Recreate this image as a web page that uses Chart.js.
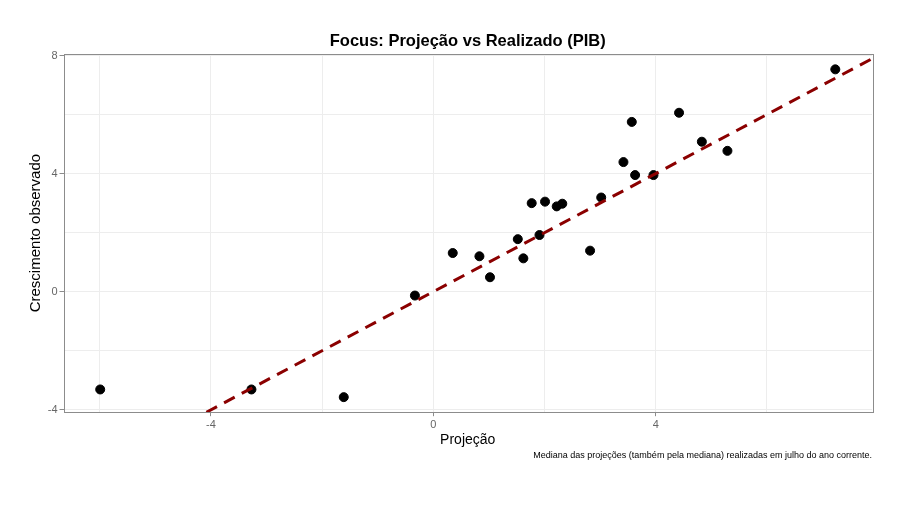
<!DOCTYPE html>
<html><head><meta charset="utf-8">
<script src="https://cdn.jsdelivr.net/npm/chart.js@4"></script>
<style>html,body{margin:0;padding:0;background:#fff}#wrap{width:906px;height:509px}</style>
</head><body><div id="wrap"><canvas id="c" width="906" height="509"></canvas></div>
<script>
const projecao = [-5.99, -3.27, -1.61, -0.33, 0.35, 0.83, 1.02, 1.52, 1.62, 1.77, 1.91, 2.01, 2.22, 2.32, 2.82, 3.02, 3.42, 3.57, 3.63, 3.96, 4.42, 4.83, 5.29, 7.23];
const realizado = [-3.31, -3.31, -3.57, -0.13, 1.31, 1.20, 0.49, 1.78, 1.13, 3.00, 1.92, 3.05, 2.89, 2.98, 1.39, 3.19, 4.39, 5.75, 3.95, 3.95, 6.06, 5.08, 4.77, 7.53];
const refLineX = [-4.08, 7.9];
const refLineY = [-4.08, 7.9];
const xLimits = [-6.65, 7.89];
const yLimits = [-4.08, 8.05];
const majorStep = 4;
const titleText = 'Focus: Projeção vs Realizado (PIB)';

const points = projecao.map((x, i) => ({x, y: realizado[i]}));
const linePts = refLineX.map((x, i) => ({x, y: refLineY[i]}));

const panelPlugin = {
  id: 'panel',
  afterDatasetsDraw(chart) {
    const a = chart.chartArea, ctx = chart.ctx;
    ctx.save();
    ctx.strokeStyle = '#8c8c8c';
    ctx.lineWidth = 1;
    ctx.strokeRect(Math.round(a.left) + 0.5, Math.round(a.top) + 0.5, Math.round(a.right - a.left), Math.round(a.bottom - a.top));
    ctx.restore();
  },
  afterDraw(chart) {
    const a = chart.chartArea, ctx = chart.ctx;
    ctx.save();
    ctx.fillStyle = '#000';
    ctx.font = 'bold 16.5px "Liberation Sans"';
    ctx.textAlign = 'center';
    ctx.textBaseline = 'middle';
    ctx.fillText(titleText, (a.left + a.right) / 2, 41);
    ctx.restore();
  }
};

const gridColor = (ctx) => '#ededed';
const tickCol = (ctx) => (ctx.tick && Math.abs(ctx.tick.value % majorStep) < 1e-9) ? '#8c8c8c' : 'rgba(0,0,0,0)';
const lbl = (v) => (Math.abs(v % majorStep) < 1e-9) ? String(v) : '';

new Chart(document.getElementById('c'), {
  type: 'scatter',
  data: {
    datasets: [
      {type: 'line', data: linePts, borderColor: '#8b0000', borderWidth: 3, borderDash: [12, 8], pointRadius: 0, fill: false, order: 0},
      {data: points, backgroundColor: '#000', borderColor: '#000', pointRadius: 4.5, pointHoverRadius: 4.5, order: 1}
    ]
  },
  plugins: [panelPlugin],
  options: {
    responsive: false,
    animation: false,
    layout: {padding: {left: 0, right: 34, top: 54, bottom: 0}},
    plugins: {
      legend: {display: false},
      tooltip: {enabled: false},
      title: {display: false},
      subtitle: {display: true, position: 'bottom', align: 'end', text: 'Mediana das projeções (também pela mediana) realizadas em julho do ano corrente.',
        color: '#000', font: {family: 'Liberation Sans', size: 9}, padding: {top: 0, bottom: 48}}
    },
    scales: {
      x: {
        type: 'linear', min: xLimits[0], max: xLimits[1],
        ticks: {stepSize: 2, includeBounds: false, callback: lbl, color: '#666', font: {family: 'Liberation Sans', size: 11}, padding: 2, maxRotation: 0, autoSkip: false},
        grid: {color: gridColor, tickColor: tickCol, tickLength: 4, drawTicks: true},
        border: {display: false},
        title: {display: true, text: 'Projeção', color: '#000', font: {family: 'Liberation Sans', size: 14}, padding: {top: 0, bottom: 2}},
        afterFit(s) { s.height = 38; }
      },
      y: {
        type: 'linear', min: yLimits[0], max: yLimits[1],
        ticks: {stepSize: 2, includeBounds: false, callback: lbl, color: '#666', font: {family: 'Liberation Sans', size: 11}, padding: 2, autoSkip: false},
        grid: {color: gridColor, tickColor: tickCol, tickLength: 4, drawTicks: true},
        border: {display: false},
        title: {display: true, text: 'Crescimento observado', color: '#000', font: {family: 'Liberation Sans', size: 15}, padding: {top: 27, bottom: 0}},
        afterFit(s) { s.width = 63.5; }
      }
    }
  }
});
</script></body></html>
